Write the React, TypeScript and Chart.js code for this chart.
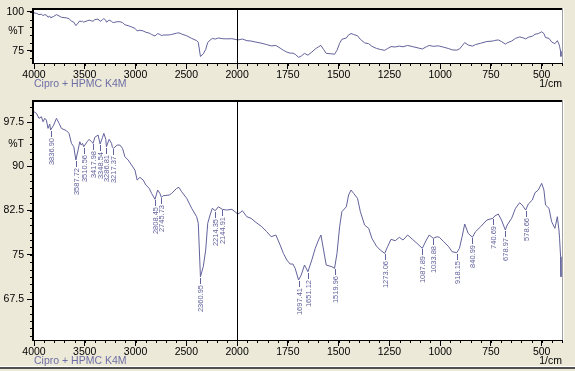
import React, { useEffect, useRef } from 'react';
import { Chart, registerables } from 'chart.js';

Chart.register(...registerables);

// Wavenumbers (1/cm), descending
const wavenumbers = [
  4000, 3976, 3951, 3927, 3911, 3894, 3878, 3862, 3845, 3836.90,
  3806, 3779, 3753, 3730, 3680, 3655, 3631, 3608, 3587.72, 3566,
  3549, 3535, 3522, 3510.56, 3477, 3457, 3434, 3417.98, 3401, 3369,
  3348.54, 3325, 3312, 3293, 3286.81, 3260, 3236, 3228, 3217.37, 3181,
  3154, 3128, 3105, 3073, 3039, 3006, 2984, 2957, 2925, 2898,
  2865, 2842, 2808.45, 2782, 2760, 2745.73, 2727, 2668, 2644, 2595,
  2572, 2546, 2496, 2447, 2398, 2382, 2360.95, 2333, 2309, 2289,
  2266, 2244, 2214.35, 2185, 2144.91, 2102, 2052, 2020, 1997, 1985,
  1974, 1952, 1931, 1911, 1878, 1854, 1832, 1809, 1788, 1772,
  1755, 1739, 1725, 1714, 1697.41, 1684, 1668, 1651.12, 1632, 1615,
  1599, 1587, 1574, 1561, 1533, 1519.96, 1508, 1495, 1484, 1462,
  1451, 1439, 1426, 1407, 1393, 1372, 1352, 1336, 1314, 1295,
  1273.06, 1259, 1242, 1221, 1201, 1183, 1160, 1138, 1114, 1087.89,
  1068, 1054, 1033.88, 1015, 1004, 982, 958, 941, 918.15, 905,
  892, 879, 862, 840.99, 826, 801, 770, 740.69, 731, 714,
  698, 678.97, 670, 648, 629, 609, 596, 578.66, 566, 546,
  533, 517, 500, 489, 481, 464, 451, 435, 423, 415,
  412, 407, 405,
];

// Transmittance (%T)
const transmittance = [
  99.25, 98.97, 98.13, 98.4, 97.55, 98.13, 97.84, 96.43, 97.16, 96.14,
  96.99, 98.13, 97.28, 96.43, 96.03, 95.58, 93.89, 93.31, 91.06, 92.75,
  94.16, 93.6, 93.89, 93.31, 94.16, 94.57, 94.16, 93.89, 94.91, 95.3,
  93.77, 94.91, 95.58, 94.57, 93.31, 94.57, 93.89, 93.2, 93.04, 93.6,
  93.6, 93.04, 91.62, 91.06, 90.21, 89.36, 87.67, 88.13, 87.67, 86.82,
  86.26, 85.41, 84.4, 85.97, 85.41, 84.74, 85.01, 85.13, 85.41, 86.26,
  86.43, 85.69, 84.57, 82.87, 81.45, 80.33, 71.28, 72.97, 75.8, 80.33,
  81.74, 82.87, 82.47, 83.14, 82.7, 82.58, 82.7, 82.3, 81.91, 82.13,
  82.47, 81.45, 81.18, 80.6, 79.75, 78.91, 78.06, 78.35, 76.65, 75.24,
  74.11, 73.43, 73.43, 72.7, 70.72, 71.57, 73.26, 72.13, 74.11, 76.09,
  77.5, 78.35, 75.8, 73.26, 72.97, 72.7, 75.24, 79.75, 82.3, 83.14,
  85.13, 85.97, 85.41, 84.57, 82.3, 80.04, 79.48, 77.79, 76.48, 75.8,
  75.24, 76.36, 77.62, 77.38, 77.96, 77.5, 78.35, 77.67, 76.94, 76.09,
  77.5, 78.35, 77.79, 78.06, 77.96, 77.21, 76.36, 75.52, 75.35, 76.09,
  78.06, 80.21, 78.63, 77.96, 78.91, 79.75, 80.89, 81.18, 81.57, 81.91,
  80.89, 79.19, 80.04, 81.18, 82.87, 83.82, 83.43, 82.58, 83.6, 84.28,
  85.52, 85.97, 87.11, 85.97, 83.43, 82.87, 80.6, 79.48, 81.45, 79.19,
  77.79, 74.67, 71.28,
];

// Labelled peaks
const peakWavenumbers = [
  3836.90, 3587.72, 3510.56, 3417.98, 3348.54, 3286.81, 3217.37,
  2808.45, 2745.73, 2360.95, 2214.35, 2144.91,
  1697.41, 1651.12, 1519.96, 1273.06, 1087.89, 1033.88,
  918.15, 840.99, 740.69, 678.97, 578.66,
];

const xTickWavenumbers = [4000, 3500, 3000, 2500, 2000, 1750, 1500, 1250, 1000, 750, 500];
const xTickLabels = ['4000', '3500', '3000', '2500', '2000', '1750', '1500', '1250', '1000', '750', '500'];

const topYTicks = [75, 100];
const bottomYTicks = [67.5, 75, 82.5, 90, 97.5];

const sampleName = 'Cipro + HPMC K4M';
const unitLabel = '1/cm';
const yUnitLabel = '%T';

const LINE = '#62629C';
const TEXT_FONT = '"Liberation Sans", Arial, sans-serif';

// Split wavenumber axis: 4000-2000 compressed x1/2, 2000-400 normal
const toU = (wn: number) => (wn >= 2000 ? (4000 - wn) / 2 : 1000 + (2000 - wn));
const U_MAX = toU(400);

type PanelOpts = {
  yMin: number;
  yMax: number;
  yTicks: number[];
  yMinorStep: number;
  yUnitPos: number;
  padTop: number;
  xAxisHeight: number;
  captionBaseline: number;
  showPeaks: boolean;
};

function makeChart(canvas: HTMLCanvasElement, o: PanelOpts) {
  const points = wavenumbers.map((w, i) => ({ x: toU(w), y: transmittance[i] }));

  const deco = {
    id: 'deco',
    beforeDatasetsDraw(chart: any) {
      const { ctx, chartArea: a } = chart;
      ctx.save();
      ctx.fillStyle = '#FFFFFF';
      ctx.fillRect(a.left, a.top, a.right - a.left, a.bottom - a.top);
      ctx.restore();
    },
    afterDraw(chart: any) {
      const { ctx, chartArea: a } = chart;
      const x = chart.scales.x;
      const y = chart.scales.y;
      ctx.save();
      ctx.lineWidth = 1;
      ctx.strokeStyle = '#000';
      ctx.beginPath();
      // minor y ticks
      const start = Math.ceil(o.yMin / o.yMinorStep) * o.yMinorStep;
      for (let v = start; v <= o.yMax + 1e-9; v += o.yMinorStep) {
        const py = Math.round(y.getPixelForValue(v)) + 0.5;
        ctx.moveTo(a.left - 4, py);
        ctx.lineTo(a.left, py);
      }
      // minor x ticks
      for (let u = 0; u <= U_MAX + 1e-9; u += 50) {
        const px = Math.round(x.getPixelForValue(u)) + 0.5;
        ctx.moveTo(px, a.bottom);
        ctx.lineTo(px, a.bottom + 3);
      }
      ctx.stroke();

      // split line at 2000
      const sx = Math.round(x.getPixelForValue(toU(2000))) + 0.5;
      ctx.beginPath();
      ctx.moveTo(sx, a.top);
      ctx.lineTo(sx, a.bottom);
      ctx.stroke();

      // frame (sunken)
      ctx.fillStyle = '#000';
      ctx.fillRect(a.left - 2, a.top - 2, a.right - a.left + 3, 2);
      ctx.fillRect(a.left - 2, a.top - 2, 2, a.bottom - a.top + 3);
      ctx.fillRect(a.left - 2, Math.round(a.bottom), a.right - a.left + 3, 1);
      ctx.fillStyle = '#A0A0A0';
      ctx.fillRect(Math.round(a.right), a.top - 2, 1, a.bottom - a.top + 2);
      ctx.fillStyle = '#FFFFFF';
      ctx.fillRect(Math.round(a.right) + 1, a.top - 2, 1, a.bottom - a.top + 3);

      // captions
      ctx.fillStyle = '#6E6EA6';
      ctx.font = `10.5px ${TEXT_FONT}`;
      ctx.textBaseline = 'alphabetic';
      ctx.textAlign = 'left';
      ctx.fillText(sampleName, a.left, o.captionBaseline);
      ctx.fillStyle = '#000';
      ctx.textAlign = 'right';
      ctx.fillText(unitLabel, a.right, o.captionBaseline);

      // peak labels
      if (o.showPeaks) {
        ctx.strokeStyle = LINE;
        ctx.fillStyle = LINE;
        ctx.font = `7.5px ${TEXT_FONT}`;
        peakWavenumbers.forEach((pw) => {
          const idx = wavenumbers.indexOf(pw);
          if (idx < 0) return;
          const px = Math.round(x.getPixelForValue(toU(pw))) + 0.5;
          const py = Math.round(y.getPixelForValue(transmittance[idx]));
          ctx.beginPath();
          ctx.moveTo(px, py + 1);
          ctx.lineTo(px, py + 7);
          ctx.stroke();
          ctx.save();
          ctx.translate(px, py + 8);
          ctx.rotate(-Math.PI / 2);
          ctx.textAlign = 'right';
          ctx.textBaseline = 'middle';
          ctx.fillText(pw.toFixed(2), 0, 0.5);
          ctx.restore();
        });
      }
      ctx.restore();
    },
  };

  const yTickValues = [...o.yTicks, o.yUnitPos].sort((p, q) => p - q);

  return new Chart(canvas, {
    type: 'line',
    data: {
      datasets: [
        {
          data: points,
          borderColor: LINE,
          borderWidth: 1,
          pointRadius: 0,
          tension: 0,
          fill: false,
        },
      ],
    },
    options: {
      animation: false,
      responsive: false,
      events: [],
      layout: { padding: { left: 0, right: 13, top: o.padTop, bottom: 0 } },
      plugins: { legend: { display: false }, tooltip: { enabled: false } },
      scales: {
        x: {
          type: 'linear',
          min: 0,
          max: U_MAX,
          afterBuildTicks: (scale: any) => {
            scale.ticks = xTickWavenumbers.map((w) => ({ value: toU(w) }));
          },
          afterFit: (scale: any) => {
            scale.height = o.xAxisHeight;
          },
          ticks: {
            autoSkip: false,
            maxRotation: 0,
            padding: 0,
            color: '#000',
            font: { family: TEXT_FONT, size: 10.5 },
            callback: (_v: any, i: number) => xTickLabels[i],
          },
          grid: { display: true, drawOnChartArea: false, drawTicks: true, tickLength: 6, tickColor: '#000' },
          border: { display: false },
        },
        y: {
          type: 'linear',
          min: o.yMin,
          max: o.yMax,
          afterBuildTicks: (scale: any) => {
            scale.ticks = yTickValues.map((v) => ({ value: v }));
          },
          afterFit: (scale: any) => {
            scale.width = 34;
          },
          ticks: {
            autoSkip: false,
            padding: 3,
            color: '#000',
            font: { family: TEXT_FONT, size: 10.5 },
            callback: (v: any) => (v === o.yUnitPos ? yUnitLabel : String(v)),
          },
          grid: {
            display: true,
            drawOnChartArea: false,
            drawTicks: true,
            tickLength: 7,
            tickColor: (c: any) => (c.tick && c.tick.value === o.yUnitPos ? 'rgba(0,0,0,0)' : '#000'),
          },
          border: { display: false },
        },
      },
    },
    plugins: [deco],
  } as any);
}

export default function App() {
  const topRef = useRef<HTMLCanvasElement>(null);
  const botRef = useRef<HTMLCanvasElement>(null);

  useEffect(() => {
    const top = makeChart(topRef.current as HTMLCanvasElement, {
      yMin: 67.1,
      yMax: 101.1,
      yTicks: topYTicks,
      yMinorStep: 5,
      yUnitPos: 87.5,
      padTop: 10,
      xAxisHeight: 29,
      captionBaseline: 87,
      showPeaks: false,
    });
    const bot = makeChart(botRef.current as HTMLCanvasElement, {
      yMin: 60.55,
      yMax: 100.9,
      yTicks: bottomYTicks,
      yMinorStep: 1.25,
      yUnitPos: 93.75,
      padTop: 10,
      xAxisHeight: 31,
      captionBaseline: 271.5,
      showPeaks: true,
    });
    return () => {
      top.destroy();
      bot.destroy();
    };
  }, []);

  return (
    <div
      style={{
        position: 'absolute',
        left: 0,
        top: 0,
        width: 575,
        height: 371,
        background: '#ECE9D8',
        overflow: 'hidden',
      }}
    >
      <canvas
        ref={topRef}
        width={575}
        height={92}
        style={{ position: 'absolute', left: 0, top: 0, width: 575, height: 92 }}
      />
      <canvas
        ref={botRef}
        width={575}
        height={279}
        style={{ position: 'absolute', left: 0, top: 92, width: 575, height: 279 }}
      />
      <div style={{ position: 'absolute', left: 0, top: 366, width: 575, height: 1, background: '#FFFFFF' }} />
      <div style={{ position: 'absolute', left: 0, top: 367, width: 575, height: 2, background: '#505050' }} />
    </div>
  );
}
